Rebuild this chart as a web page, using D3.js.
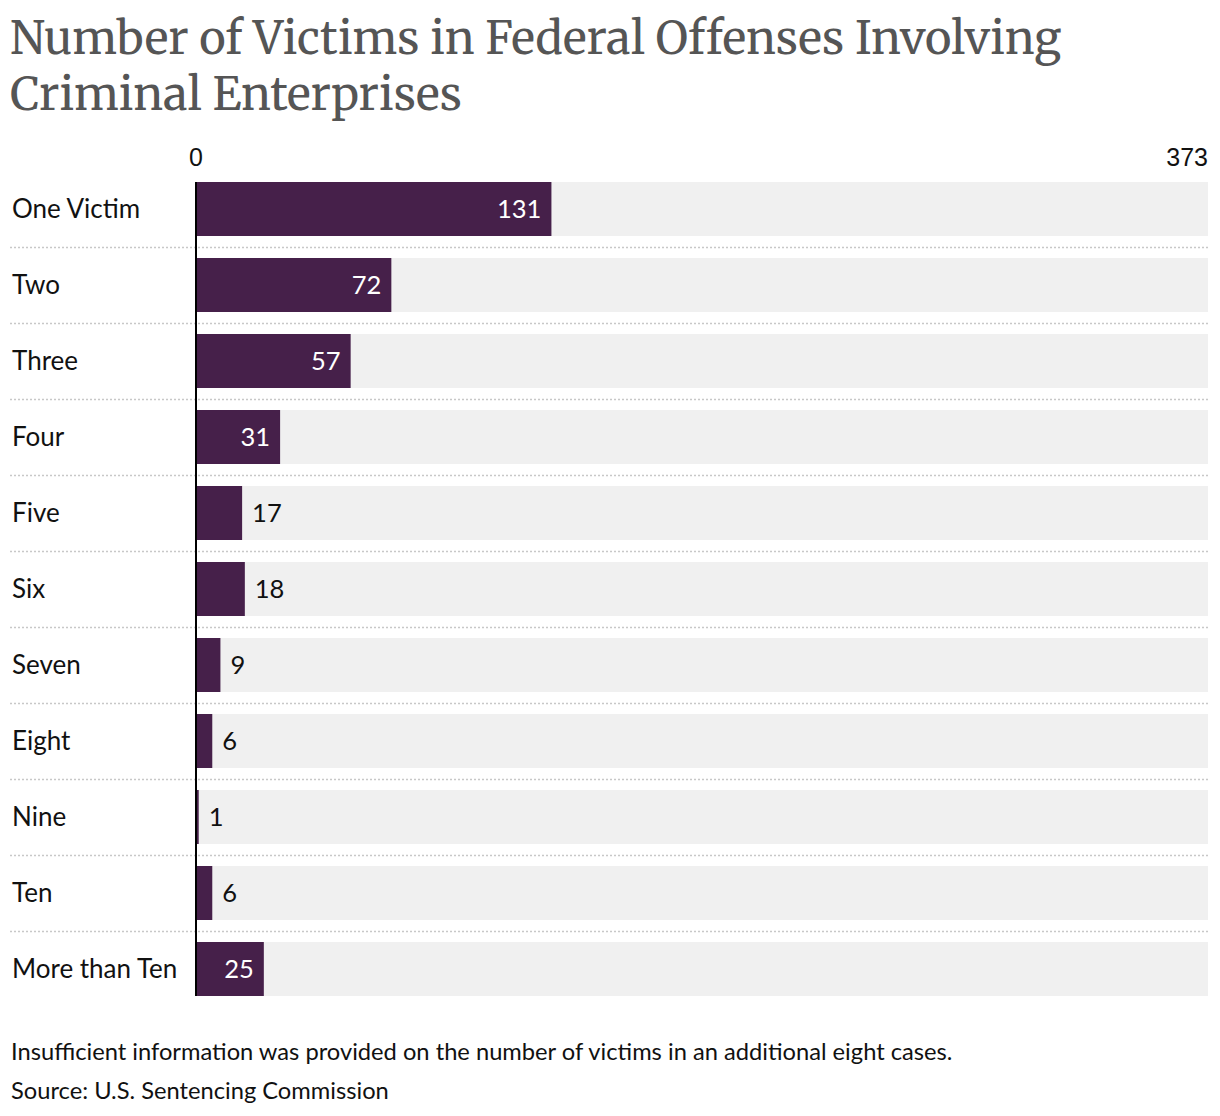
<!DOCTYPE html>
<html><head><meta charset="utf-8">
<script src="https://cdn.jsdelivr.net/npm/d3@7"></script>
<style>
body{margin:0;background:#fff;}
text{font-family:Lato,"Noto Sans",sans-serif;}
</style></head>
<body>
<svg id="chart" width="1220" height="1116"></svg>
<script>
const categories = ["One Victim","Two","Three","Four","Five","Six","Seven","Eight","Nine","Ten","More than Ten"];
const values = [131,72,57,31,17,18,9,6,1,6,25];
const axisMax = 373;
const tickValues = [0, 373];
const titleLines = ["Number of Victims in Federal Offenses Involving","Criminal Enterprises"];
const notes = ["Insufficient information was provided on the number of victims in an additional eight cases.","Source: U.S. Sentencing Commission"];

(function(){
const svg = d3.select("#chart");
const leftX = 196, rightX = 1208, topY = 182, step = 76, barH = 54;
const gap = step - barH;
const x = d3.scaleLinear().domain([0, axisMax]).range([leftX, rightX]);
const y = d3.scaleBand().domain(categories)
  .range([topY - gap/2, topY - gap/2 + step*categories.length])
  .paddingInner(gap/step).paddingOuter(gap/step/2);

// Title
const title = svg.append("g");
titleLines.forEach((t,i)=>{
  title.append("text").attr("x",10).attr("y",54+i*56).text(t)
    .style("font-family","Merriweather,'DejaVu Serif','Liberation Serif',serif")
    .style("font-size","46px").attr("fill","#555");
});
const n0 = title.select("text").node();
const w0 = n0.getComputedTextLength();
const fs = 46 * 1052 / w0;
title.selectAll("text").style("font-size", Math.min(fs, 50)+"px");

// background bars
svg.append("g").selectAll("rect").data(categories).join("rect")
  .attr("x", x(0)).attr("y", d=>y(d)).attr("width", x(axisMax)-x(0)).attr("height", y.bandwidth())
  .attr("fill","#f0f0f0");

// separators
svg.append("g").selectAll("line").data(categories.slice(1)).join("line")
  .attr("x1",10).attr("x2",rightX).attr("y1",d=>y(d)-gap/2+0.5).attr("y2",d=>y(d)-gap/2+0.5)
  .attr("stroke","#c8c8c8").attr("stroke-width",1.5).attr("stroke-dasharray","2,2");

// bars
svg.append("g").selectAll("rect").data(values).join("rect")
  .attr("x", x(0)).attr("y", (d,i)=>y(categories[i])).attr("width", d=>x(d)-x(0)).attr("height", y.bandwidth())
  .attr("fill","#46204a");

// value labels
svg.append("g").selectAll("text").data(values).join("text")
  .attr("y",(d,i)=>y(categories[i])+y.bandwidth()/2+9)
  .attr("x", d=> d>=25 ? x(d)-10 : x(d)+10)
  .attr("text-anchor", d=> d>=25 ? "end" : "start")
  .attr("fill", d=> d>=25 ? "#fff" : "#111")
  .style("font-size","25.5px").text(d=>d);

// category labels
svg.append("g").selectAll("text").data(categories).join("text")
  .attr("x",12).attr("y",d=>y(d)+y.bandwidth()/2+9)
  .attr("fill","#111").style("font-size","26px").text(d=>d);

// axis line
svg.append("line").attr("x1",x(0)).attr("x2",x(0)).attr("y1",topY).attr("y2",y(categories[categories.length-1])+y.bandwidth())
  .attr("stroke","#000").attr("stroke-width",2);

// tick labels
svg.append("g").selectAll("text").data(tickValues).join("text")
  .attr("x",d=>x(d)).attr("y",166)
  .attr("text-anchor",(d,i)=> i===0 ? "middle" : "end")
  .attr("fill","#111")
  .style("font-family","'Liberation Sans',Arial,sans-serif")
  .style("font-size","25px").text(d=>d);

// notes
svg.append("g").selectAll("text").data(notes).join("text")
  .attr("x",11).attr("y",(d,i)=>1060+i*39)
  .attr("fill","#111").style("font-size","23.7px").text(d=>d);
})();
</script>
</body></html>
